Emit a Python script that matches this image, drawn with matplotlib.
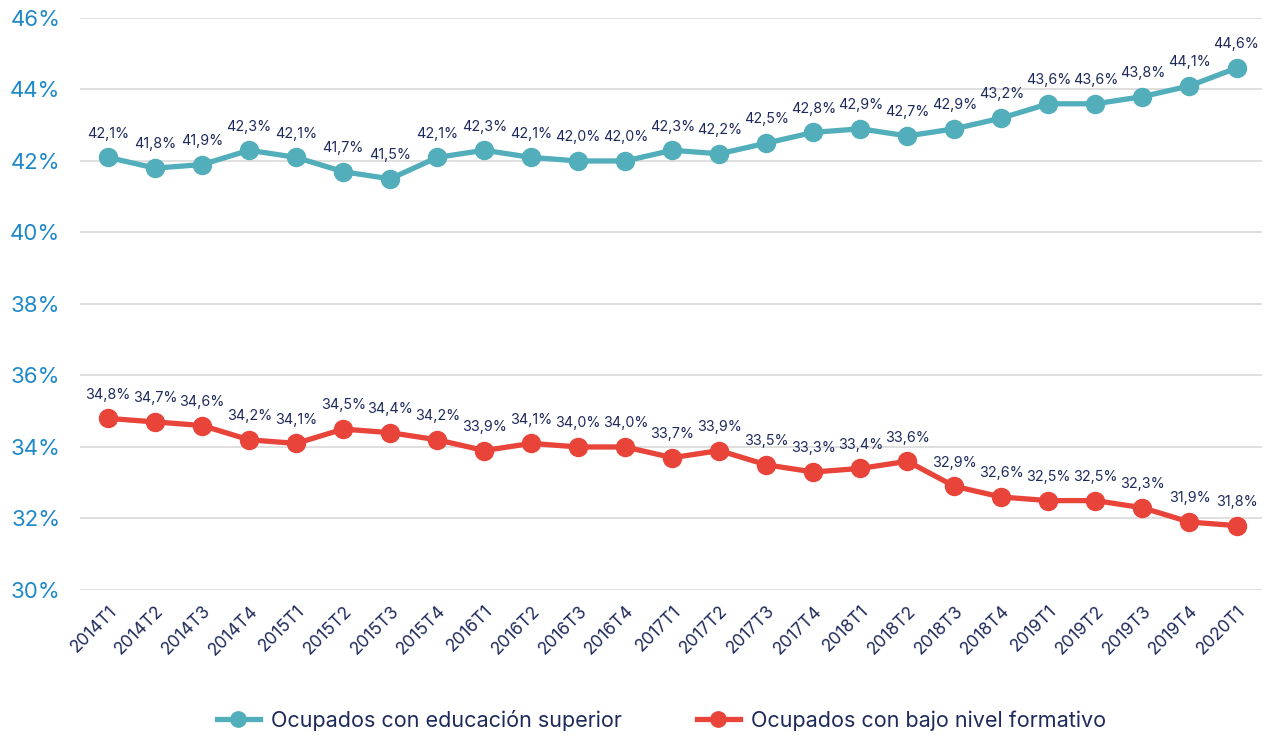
import matplotlib
matplotlib.use("Agg")
import matplotlib.pyplot as plt

plt.rcParams["font.family"] = ["Inter", "DejaVu Sans"]

periods = ["2014T1", "2014T2", "2014T3", "2014T4",
           "2015T1", "2015T2", "2015T3", "2015T4",
           "2016T1", "2016T2", "2016T3", "2016T4",
           "2017T1", "2017T2", "2017T3", "2017T4",
           "2018T1", "2018T2", "2018T3", "2018T4",
           "2019T1", "2019T2", "2019T3", "2019T4", "2020T1"]

superior = [42.1, 41.8, 41.9, 42.3, 42.1, 41.7, 41.5, 42.1, 42.3, 42.1, 42.0, 42.0,
            42.3, 42.2, 42.5, 42.8, 42.9, 42.7, 42.9, 43.2, 43.6, 43.6, 43.8, 44.1, 44.6]
bajo = [34.8, 34.7, 34.6, 34.2, 34.1, 34.5, 34.4, 34.2, 33.9, 34.1, 34.0, 34.0,
        33.7, 33.9, 33.5, 33.3, 33.4, 33.6, 32.9, 32.6, 32.5, 32.5, 32.3, 31.9, 31.8]

yticks = [30, 32, 34, 36, 38, 40, 42, 44, 46]

teal = "#52AEBA"
red = "#E8443A"
navy = "#1F2A5C"
blue = "#1E88C8"

fig = plt.figure(figsize=(12.79, 7.37), dpi=100)
ax = fig.add_axes([0.0625, 0.1995, 0.9245, 0.7761])

x = list(range(len(periods)))
ax.plot(x, superior, color=teal, lw=3.8, marker="o", ms=13, label="Ocupados con educación superior", zorder=3)
ax.plot(x, bajo, color=red, lw=3.8, marker="o", ms=13, label="Ocupados con bajo nivel formativo", zorder=3)

for xi, v in zip(x, superior):
    ax.annotate(f"{v:.1f}%".replace(".", ","), (xi, v), xytext=(0, 12), textcoords="offset points",
                ha="center", va="bottom", fontsize=10.3, color=navy)
for xi, v in zip(x, bajo):
    ax.annotate(f"{v:.1f}%".replace(".", ","), (xi, v), xytext=(0, 12), textcoords="offset points",
                ha="center", va="bottom", fontsize=10.3, color=navy)

ax.set_ylim(30, 46)
ax.set_xlim(-0.6, 24.55)
ax.set_yticks(yticks)
ax.set_yticklabels([f"{t}%" for t in yticks], color=blue, fontsize=16)
ax.set_xticks(x)
ax.set_xticklabels(periods, rotation=45, ha="right", rotation_mode="anchor", fontsize=12.5, color=navy)
ax.tick_params(axis="y", length=0, pad=14)
ax.tick_params(axis="x", length=0, pad=9)
ax.grid(axis="y", color="#d9d9d9", lw=1.2)
ax.set_axisbelow(True)
for s in ax.spines.values():
    s.set_visible(False)

fig.legend(loc="lower center", bbox_to_anchor=(0.517, -0.018), ncol=2, frameon=False,
           fontsize=15.5, labelcolor=navy, handlelength=2.0, handletextpad=0.5,
           columnspacing=3.5, markerscale=0.85)

fig.savefig("out.png", dpi=100)
